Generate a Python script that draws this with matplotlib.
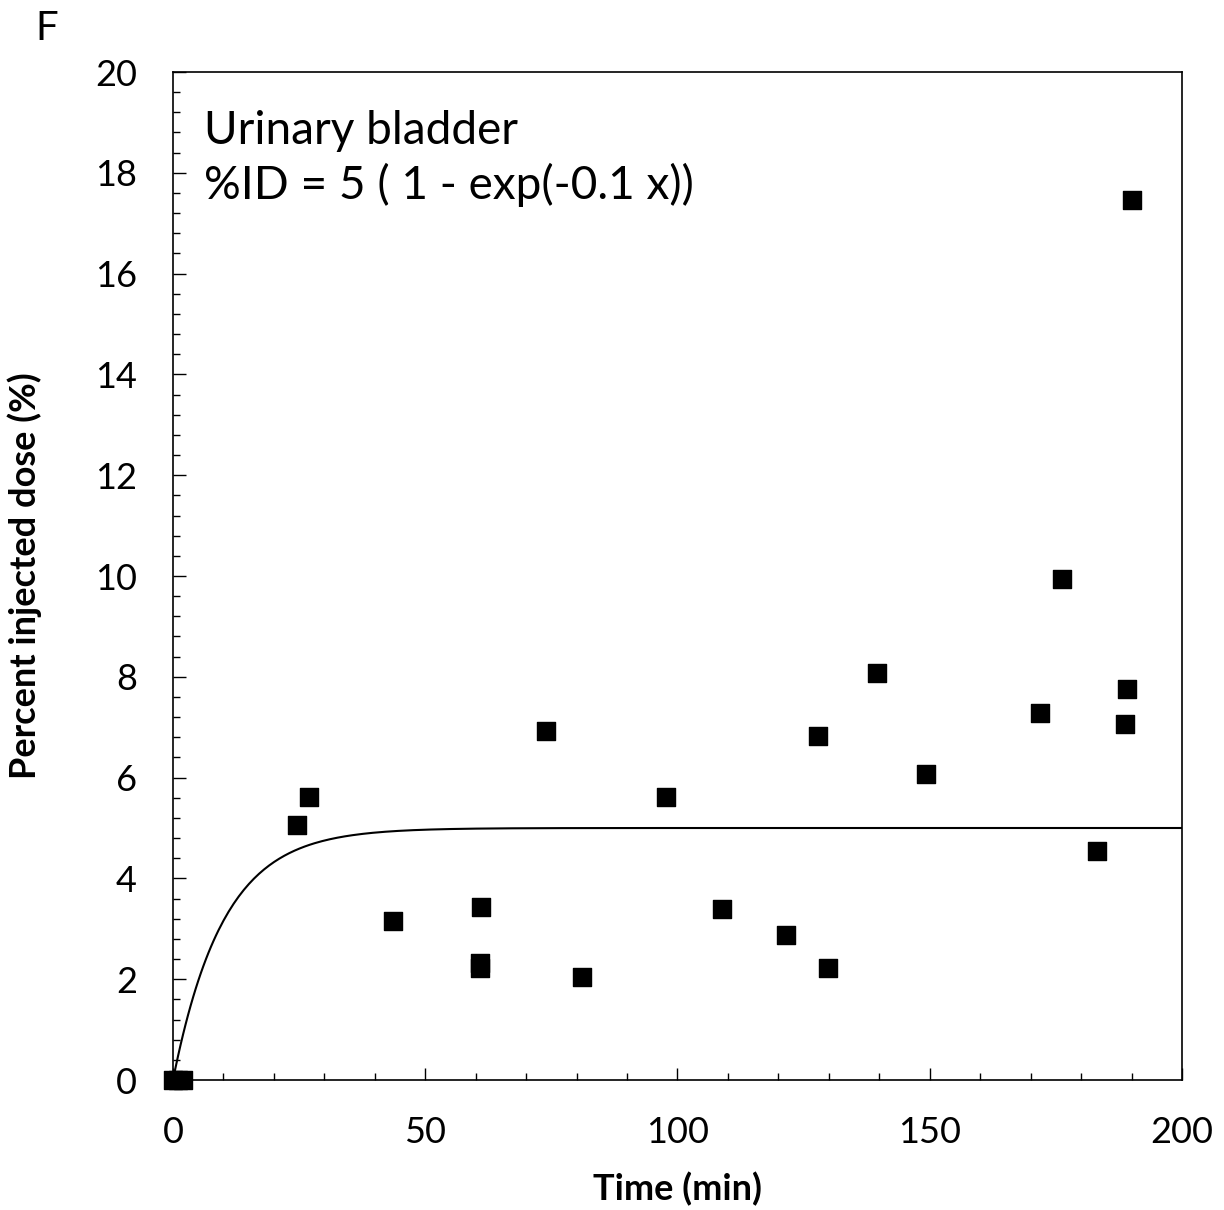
import matplotlib.pyplot as plt
import numpy as np
from matplotlib.ticker import MultipleLocator

plt.rcParams['font.family'] = ['Lato', 'DejaVu Sans']

# measured points (time in min, %ID)
time_min = [0, 1, 2, 24.6, 27.0, 43.6, 61.1, 60.9, 60.9, 73.9, 81.1, 97.7,
            108.8, 121.5, 127.9, 129.8, 139.5, 149.3, 171.9, 176.2, 183.2,
            189.1, 188.7, 190.1]
pct_id = [0, 0, 0, 5.06, 5.62, 3.15, 3.43, 2.32, 2.22, 6.92, 2.04, 5.62,
          3.39, 2.88, 6.83, 2.22, 8.08, 6.07, 7.28, 9.94, 4.54,
          7.76, 7.06, 17.46]

# fitted model parameters
amp = 5
rate = 0.1

fig = plt.figure(figsize=(12.24, 12.10), dpi=100)
ax = fig.add_axes([173 / 1224, 1 - 1080 / 1210, (1182 - 173) / 1224, (1080 - 72) / 1210])

x_fit = np.linspace(0, 200, 400)
ax.plot(x_fit, amp * (1 - np.exp(-rate * x_fit)), color='black', lw=1.5)
ax.scatter(time_min, pct_id, marker='s', s=150, color='black', zorder=3, clip_on=False)

ax.set_xlim(0, 200)
ax.set_ylim(0, 20)
ax.xaxis.set_major_locator(MultipleLocator(50))
ax.xaxis.set_minor_locator(MultipleLocator(10))
ax.yaxis.set_major_locator(MultipleLocator(2))
ax.yaxis.set_minor_locator(MultipleLocator(0.4))
ax.tick_params(which='major', direction='in', length=9, width=1, labelsize=26)
ax.tick_params(which='minor', direction='in', length=5, width=1)
ax.tick_params(axis='x', which='major', pad=26)
ax.tick_params(axis='y', which='major', pad=26)
for s in ax.spines.values():
    s.set_linewidth(1.2)

ax.set_xlabel('Time (min)', fontsize=26, fontweight='bold', labelpad=16)
ax.set_ylabel('Percent injected dose (%)', fontsize=26, fontweight='bold', labelpad=38)

ax.text(0.031, 0.962, 'Urinary bladder\n%ID = 5 ( 1 - exp(-0.1 x))', transform=ax.transAxes,
        fontsize=33, va='top', ha='left', linespacing=1.3)
fig.text(35 / 1224, 1 - 28 / 1210, 'F', fontsize=29, va='center', ha='left')

fig.savefig('out.png', dpi=100)
